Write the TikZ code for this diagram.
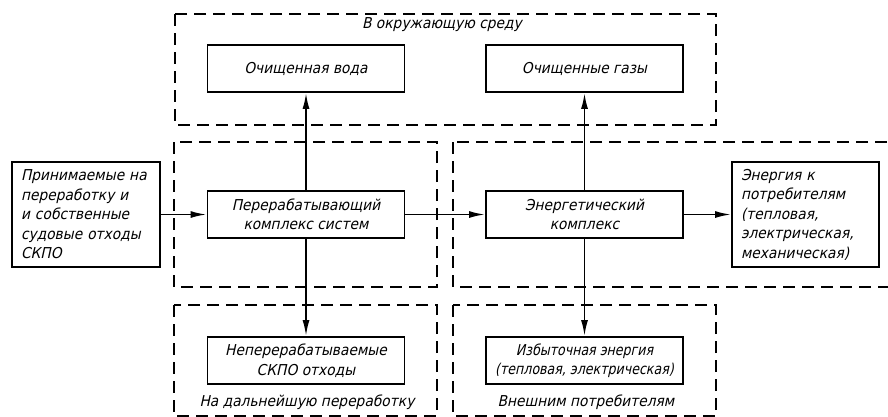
\documentclass[tikz,border=0pt]{standalone}
\usepackage{fontspec}
\setmainfont{DejaVu Sans}[FakeSlant=0.22, FakeStretch=0.92]
\newfontfamily\narrowgost{DejaVu Sans}[FakeSlant=0.22, FakeStretch=0.84]
\usetikzlibrary{arrows.meta}
\begin{document}
\begin{tikzpicture}[x=1pt,y=-1pt,
  txt/.style={font=\fontsize{15}{19.5}\selectfont},
  box/.style={txt, draw, line width=1.9pt, minimum width=197pt, minimum height=47pt, align=center, inner sep=0pt},
  bigbox/.style={txt, draw, line width=1.9pt, minimum height=105pt, align=left, inner xsep=9pt, inner ysep=0pt},
  zone/.style={draw, line width=1.5pt, dash pattern=on 12pt off 7pt},
  flow/.style={line width=1.8pt, -{Latex[length=16pt,width=7pt]}}
]
\useasboundingbox (0,0) rectangle (888,416);
\clip (0,0) rectangle (888,416);
% dashed zones
\draw[zone] (175,14) rectangle (716,125);
\draw[zone] (174,142) rectangle (437,287);
\draw[zone] (453,142) rectangle (905,287);
\draw[zone] (174,305) rectangle (437,416);
\draw[zone] (453,305) rectangle (716,416);
% zone labels
\node[txt] (envlbl) at (442,25) {В окружающую среду};
\node[txt] (furtherlbl) at (307,402) {На дальнейшую переработку};
\node[txt] (extlbl) at (586,402) {Внешним потребителям};
% boxes
\node[box] (voda) at (306,68.5) {Очищенная вода};
\node[box] (gazy) at (584.5,68.5) {Очищенные газы};
\node[box] (perer) at (306,214.5) {Перерабатывающий\\комплекс систем};
\node[box] (energ) at (584.5,214.5) {Энергетический\\комплекс};
\node[box] (neper) at (306,360.5) {Неперерабатываемые\\СКПО отходы};
\node[box, font=\narrowgost\fontsize{15}{19.5}\selectfont] (izb) at (584.5,360.5) {Избыточная энергия\\(тепловая, электрическая)};
\node[bigbox, text width=130pt] (input) at (86,214.5) {Принимаемые на\\переработку и\\и собственные\\судовые отходы\\СКПО};
\node[bigbox, text width=129pt] (cons) at (805.5,214.5) {Энергия к\\потребителям\\(тепловая,\\электрическая,\\механическая)};
% connectors
\draw[flow] (input.east) -- (perer.west);
\draw[flow] (perer.east) -- (energ.west);
\draw[flow] (energ.east) -- (cons.west);
\draw[flow] (perer.north) -- (voda.south);
\draw[flow] (energ.north) -- (gazy.south);
\draw[flow] (perer.south) -- (neper.north);
\draw[flow] (energ.south) -- (izb.north);
\end{tikzpicture}
\end{document}
